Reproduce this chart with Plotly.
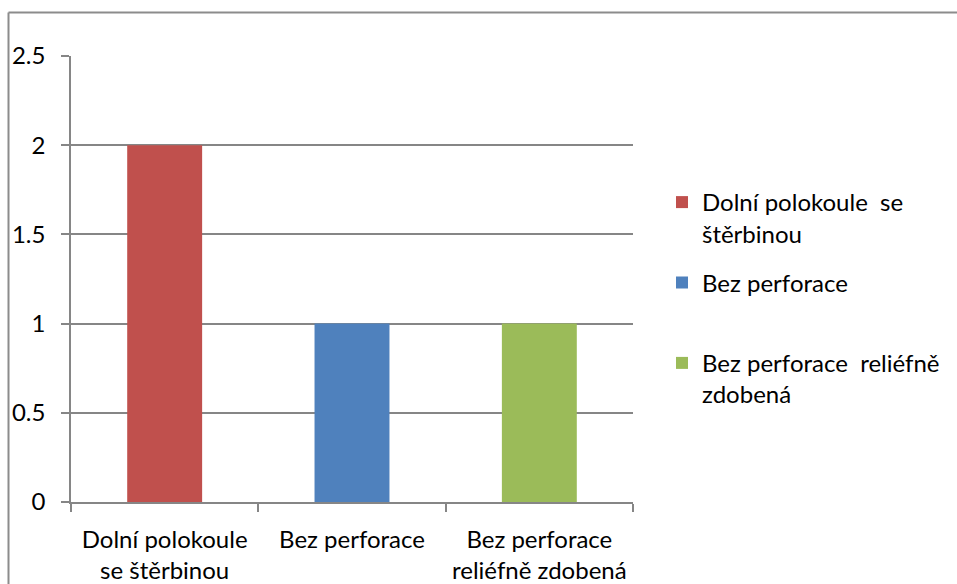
import plotly.graph_objects as go

categories = ["Dolní polokoule<br>se štěrbinou", "Bez perforace", "Bez perforace<br>reliéfně zdobená"]
series_names = ["Dolní polokoule  se<br>štěrbinou", "Bez perforace<br> ", "Bez perforace  reliéfně<br>zdobená"]
values = [2, 1, 1]
colors = ["#C0504D", "#4F81BD", "#9BBB59"]
y_ticks = [0, 0.5, 1, 1.5, 2, 2.5]
y_tick_text = ["0", "0.5", "1", "1.5", "2", "2.5"]

FONT = "Lato"
fig = go.Figure()
for i, (cat, name, val, col) in enumerate(zip(categories, series_names, values, colors)):
    fig.add_trace(go.Bar(x=[cat], y=[val], name=name, marker_color=col,
                         marker_line_width=0, width=0.4, legendgroup=f"g{i}"))

W, H = 957, 584
L, T, R, B = 71, 56, W - 633, H - 502
pw, ph = W - L - R, H - T - B

def px_x(x):
    return (x - L) / pw

def px_y(y):
    return (H - B - y) / ph

border = dict(color="#8c8c8c", width=2)
fig.update_layout(
    width=W, height=H,
    margin=dict(l=L, r=R, t=T, b=B, autoexpand=False),
    paper_bgcolor="white", plot_bgcolor="white",
    barmode="overlay",
    font=dict(family=FONT, size=24, color="black"),
    showlegend=True,
    legend=dict(x=px_x(662), xanchor="left", y=px_y(180), yanchor="top",
                valign="top", font=dict(size=24), itemwidth=30,
                traceorder="grouped", tracegroupgap=15),
    xaxis=dict(categoryorder="array", categoryarray=categories,
               showline=True, linecolor="#868686", linewidth=1.5,
               ticks="outside", tickson="boundaries", ticklen=8, tickcolor="#868686",
               tickwidth=1.5, showgrid=False, ticklabelstandoff=15),
    yaxis=dict(range=[0, 2.5], tickvals=y_ticks, ticktext=y_tick_text,
               showline=True, linecolor="#868686", linewidth=1.5,
               ticks="outside", ticklen=8, tickcolor="#868686", tickwidth=1.5,
               showgrid=True, gridcolor="#868686", gridwidth=1.5, zeroline=False,
               ticklabelstandoff=11),
    shapes=[
        dict(type="line", xref="paper", yref="paper",
             x0=px_x(8.5), x1=px_x(W + 20), y0=px_y(12.5), y1=px_y(12.5),
             line=border, layer="below"),
        dict(type="line", xref="paper", yref="paper",
             x0=px_x(8.5), x1=px_x(8.5), y0=px_y(12.5), y1=px_y(H + 20),
             line=border, layer="below"),
    ],
)
fig.write_html("out.html", config={"displayModeBar": False},
               post_script="document.body.style.margin='0';document.body.style.overflow='hidden';")
